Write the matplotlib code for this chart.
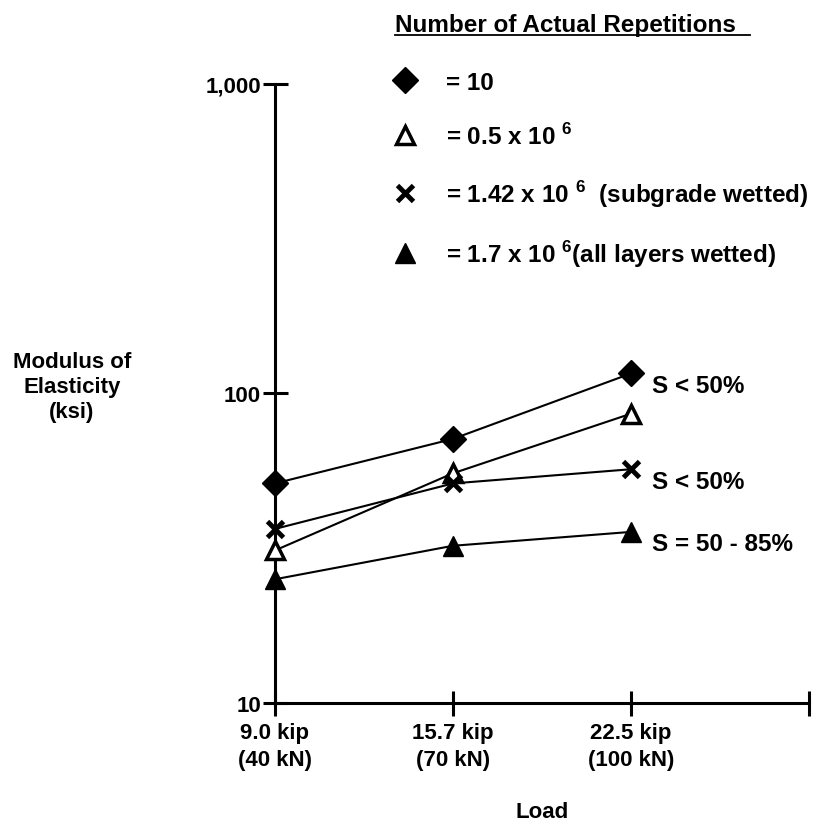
import numpy as np
import matplotlib
matplotlib.use('Agg')
import matplotlib.pyplot as plt
from matplotlib.lines import Line2D

plt.rcParams['font.family'] = ['Liberation Sans', 'DejaVu Sans']
plt.rcParams['mathtext.fontset'] = 'custom'
plt.rcParams['mathtext.rm'] = 'Liberation Sans'
plt.rcParams['mathtext.bf'] = 'Liberation Sans:bold'

# Loads and measured modulus (ksi) for each repetition count
loads = ['9.0 kip\n(40 kN)', '15.7 kip\n(70 kN)', '22.5 kip\n(100 kN)']
reps_10 = [51.2, 71.3, 116]
reps_0_5m = [31.1, 55.2, 86]
reps_1_42m = [36.5, 51.2, 56.9]
reps_1_7m = [25.1, 32.2, 35.7]
saturation = ['S < 50%', 'S < 50%', 'S = 50 - 85%']

fig = plt.figure(figsize=(8.28, 8.29), dpi=100)
ax = fig.add_axes([0.332, 0.1508, 0.645, 0.7468])

x = np.arange(len(loads))
lw = 1.5
ax.plot(x, reps_10, color='black', lw=lw, marker='D', ms=13,
        clip_on=False, zorder=3)
ax.plot(x, reps_0_5m, color='black', lw=lw, marker='^', ms=13,
        mfc='white', mew=2.5, clip_on=False, zorder=3)
ax.plot(x, reps_1_42m, color='black', lw=lw, marker='x', ms=11,
        mew=3.5, clip_on=False, zorder=3)
ax.plot(x, reps_1_7m, color='black', lw=lw, marker='^', ms=15,
        clip_on=False, zorder=3)

# saturation notes at the right end of the lower three groups
for y, txt in zip([reps_10[-1], reps_1_42m[-1], reps_1_7m[-1]], saturation):
    ax.annotate(txt, (x[-1], y), xytext=(15, -8.5), textcoords='offset points',
                va='center', ha='left', fontsize=17.5, fontweight='bold')

ax.set_yscale('log')
ax.set_ylim(10, 1000)
ax.set_xlim(0, 3)
ax.set_yticks([10, 100, 1000])
ax.set_yticklabels(['10', '100', '1,000'])
ax.yaxis.set_minor_locator(matplotlib.ticker.NullLocator())
ax.set_xticks([0, 1, 2, 3])
ax.set_xticklabels(loads + [''], linespacing=1.35)
for lab in ax.get_xticklabels() + ax.get_yticklabels():
    lab.set_fontweight('bold')
ax.tick_params(axis='both', direction='inout', length=18, width=2.2,
               labelsize=16)
ax.tick_params(axis='y', pad=1)
ax.tick_params(axis='x', pad=5)

for side in ['top', 'right']:
    ax.spines[side].set_visible(False)
for side in ['left', 'bottom']:
    ax.spines[side].set_linewidth(2.2)

ax.set_xlabel('Load', fontsize=16, fontweight='bold', labelpad=22)
fig.text(0.087, 0.533, 'Modulus of\nElasticity\n(ksi)', ha='center', va='center',
         fontsize=16, fontweight='bold', linespacing=1.25)

# legend block
fig.text(0.477, 0.962, 'Number of Actual Repetitions', fontsize=17.5,
         fontweight='bold', va='baseline')
fig.add_artist(Line2D([0.477, 0.906], [0.956, 0.956], color='black', lw=1.3))
handles = [
    Line2D([], [], color='black', ls='none', marker='D', ms=13),
    Line2D([], [], color='black', ls='none', marker='^', ms=13, mfc='white', mew=2.5),
    Line2D([], [], color='black', ls='none', marker='x', ms=11, mew=3.5),
    Line2D([], [], color='black', ls='none', marker='^', ms=15),
]
labels = [
    r'= 10',
    r'= 0.5 x 10 $^{\mathbf{6}}$',
    r'= 1.42 x 10 $^{\mathbf{6}}$  (subgrade wetted)',
    r'= 1.7 x 10 $^{\mathbf{6}}$(all layers wetted)',
]
fig.legend(handles, labels, loc='upper left', bbox_to_anchor=(0.448, 0.94),
           frameon=False, prop={'size': 17.5, 'weight': 'bold'},
           labelspacing=1.2, handlelength=1.0, handletextpad=1.2)

fig.savefig('out.png', dpi=100, facecolor='white')
